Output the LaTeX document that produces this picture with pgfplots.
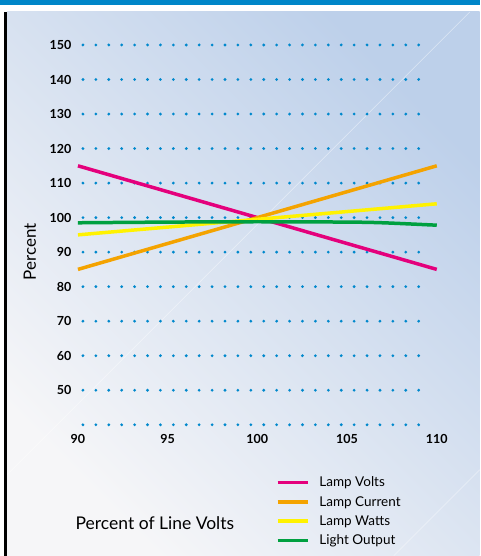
\documentclass[border=0pt]{standalone}
\usepackage{fontspec}
\setmainfont{Lato}
\usepackage{pgfplots}
\pgfplotsset{compat=1.18}
\definecolor{topblue}{HTML}{0086C8}
\definecolor{dotblue}{HTML}{0088CC}
\definecolor{bglight}{HTML}{F6F6F8}
\definecolor{bgdark}{HTML}{BDD0EA}
\definecolor{cpink}{HTML}{E4007C}
\definecolor{corange}{HTML}{F4A300}
\definecolor{cyellow}{HTML}{FFF200}
\definecolor{cgreen}{HTML}{00A040}
\begin{document}
\begin{tikzpicture}
\fill[white] (0pt,0pt) rectangle (480pt,556pt);
\shade[top color=bgdark, bottom color=bglight, shading angle=-45] (7pt,0pt) rectangle (480pt,544pt);
\draw[white, opacity=0.5, line width=0.6pt] (470pt,544pt) -- (7pt,81pt);
\draw[white, opacity=0.5, line width=0.6pt] (480pt,86pt) -- (394pt,0pt);
\fill[black] (4pt,0pt) rectangle (7pt,544pt);
\fill[topblue] (0pt,551pt) rectangle (480pt,556pt);
\begin{axis}[
  at={(78pt,131pt)}, anchor=south west,
  scale only axis, width=359pt, height=380pt,
  xmin=90, xmax=110, ymin=40, ymax=150,
  clip=false,
  axis line style={draw=none}, tick style={draw=none},
  xtick={90,95,...,110}, ytick={50,60,...,150},
  ticklabel style={font=\fontsize{12.5}{14}\selectfont\bfseries},
  /pgf/number format/assume math mode=true,
  yticklabel style={xshift=-3pt},
  xticklabel style={yshift=-6.5pt},
  xlabel={Percent of Line Volts},
  xlabel style={at={(axis description cs:0.2145,-0.258)}, anchor=center, font=\fontsize{17.5}{20}\selectfont},
  ylabel={Percent},
  ylabel style={at={(axis description cs:-0.134,0.455)}, anchor=center, font=\fontsize{17}{20}\selectfont},
  legend style={at={(axis description cs:0.543,-0.126)}, anchor=north west, draw=none, fill=none,
    font=\fontsize{13.5}{15}\selectfont, row sep=4pt},
  legend cell align=left,
  legend image code/.code={\draw[#1] (0pt,0pt) -- (30pt,0pt); \path (38pt,0pt);},
]
\pgfplotsinvokeforeach{40,50,...,150}{
  \addplot[forget plot, dotblue, line width=3.1pt, line cap=round, dash pattern=on 0pt off 12.92pt]
    coordinates {(90.2786,#1) (108.997,#1)};
}
\addplot[cpink, line width=3.5pt] coordinates {(90,115) (110,85)};
\addlegendentry{Lamp Volts}
\addplot[corange, line width=3.5pt] coordinates {(90,85) (110,115)};
\addlegendentry{Lamp Current}
\addplot[cyellow, line width=3.5pt] coordinates {(90,95) (110,104)};
\addlegendentry{Lamp Watts}
\addplot[cgreen, line width=3.5pt, smooth] coordinates {(90,98.5) (95,98.7) (100,98.8) (105,98.7) (107,98.5) (110,97.8)};
\addlegendentry{Light Output}
\end{axis}
\end{tikzpicture}
\end{document}
